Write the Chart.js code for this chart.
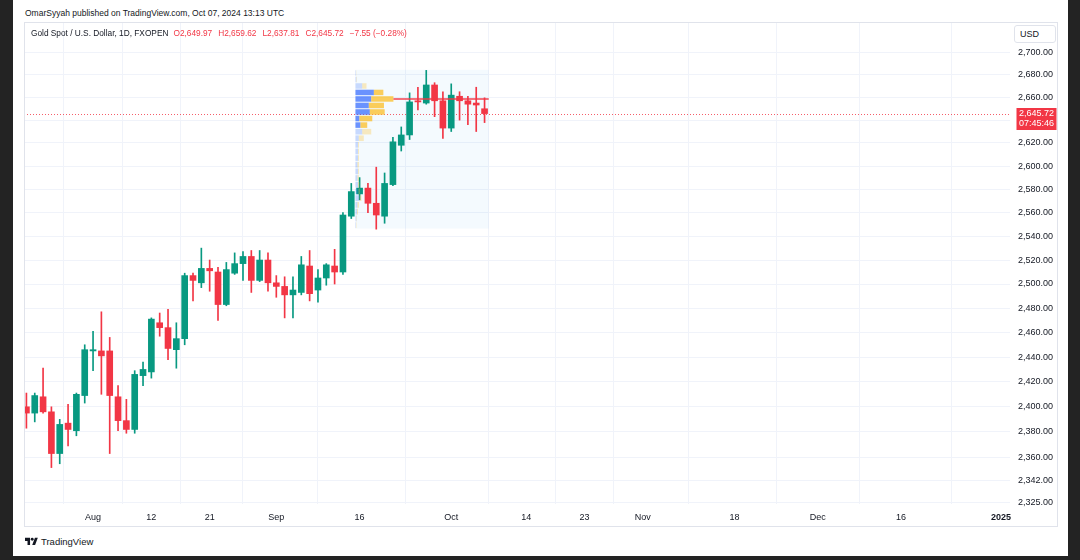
<!DOCTYPE html>
<html><head><meta charset="utf-8">
<title>Gold Spot / U.S. Dollar, 1D</title>
<script src="https://cdn.jsdelivr.net/npm/chart.js@4.4.1/dist/chart.umd.min.js"></script>
<style>
html,body{margin:0;padding:0;width:1080px;height:560px;overflow:hidden;background:#232323;font-family:'Liberation Sans',Arial,sans-serif;}
#sheet{position:absolute;left:13px;top:0;width:1055px;height:556px;background:#fff;}
#pub{position:absolute;left:25px;top:8px;font-size:8.5px;line-height:10px;color:#131722;white-space:nowrap;}
#wrap{position:absolute;left:24px;top:22px;width:1034px;height:505px;}
#frame{position:absolute;left:24px;top:22px;width:1034px;height:505px;box-sizing:border-box;border:1px solid #e0e3eb;pointer-events:none;}
#legend{position:absolute;left:31px;top:28px;font-size:8.3px;line-height:10px;color:#131722;white-space:nowrap;}
#legend span.v{color:#f23645;margin-left:6px;}
#legend span.v.first{margin-left:5px;}
#usd{position:absolute;left:1014px;top:25px;width:42px;height:18px;box-sizing:border-box;border:1px solid #e0e3eb;border-radius:3px;font-size:9px;color:#131722;line-height:16px;padding-left:5px;background:#fff;}
#brand{position:absolute;left:25px;top:536px;height:10px;display:flex;align-items:center;white-space:nowrap;}
#brand span{font-size:9.5px;color:#131722;margin-left:3px;}
</style></head>
<body>
<div id="sheet"></div>
<div id="pub">OmarSyyah published on TradingView.com, Oct 07, 2024 13:13 UTC</div>
<div id="wrap"><canvas id="c" width="1034" height="505"></canvas></div>
<div id="frame"></div>
<div id="legend"></div>
<div id="usd">USD</div>
<div id="brand"><svg width="13" height="8" viewBox="0 0 36 22"><path d="M14 22H7V11H0V2h14v20zM28 22h-8l7.5-20h8L28 22z" fill="#131722"/><circle cx="20" cy="6" r="4" fill="#131722"/></svg><span>TradingView</span></div>
<script>
// ---- data ----
const candleDates = [
 '2024-07-22','2024-07-23','2024-07-24','2024-07-25','2024-07-26',
 '2024-07-29','2024-07-30','2024-07-31','2024-08-01','2024-08-02',
 '2024-08-05','2024-08-06','2024-08-07','2024-08-08','2024-08-09',
 '2024-08-12','2024-08-13','2024-08-14','2024-08-15','2024-08-16',
 '2024-08-19','2024-08-20','2024-08-21','2024-08-22','2024-08-23',
 '2024-08-26','2024-08-27','2024-08-28','2024-08-29','2024-08-30',
 '2024-09-02','2024-09-03','2024-09-04','2024-09-05','2024-09-06',
 '2024-09-09','2024-09-10','2024-09-11','2024-09-12','2024-09-13',
 '2024-09-16','2024-09-17','2024-09-18','2024-09-19','2024-09-20',
 '2024-09-23','2024-09-24','2024-09-25','2024-09-26','2024-09-27',
 '2024-09-30','2024-10-01','2024-10-02','2024-10-03','2024-10-04',
 '2024-10-07'];
const openP = [
 2400,2395,2408,2396,2363, 2387,2381,2409,2445,2445,
 2445,2408,2389,2382,2425, 2428,2468,2464,2446,2455,
 2507,2501,2513,2510,2483, 2509,2517,2523,2503,2520,
 2501,2498,2491,2493,2515, 2495,2505,2515,2510,2557,
 2576,2581,2568,2557,2584, 2618,2627,2657,2655,2671,
 2657,2633,2661,2657,2655, 2649.97];
const highP = [
 2411,2411,2431,2400,2390, 2402,2411,2450,2461,2477,
 2456,2417,2406,2429,2436, 2472,2476,2479,2468,2509,
 2509,2530,2520,2514,2518, 2526,2527,2528,2528,2526,
 2507,2506,2506,2523,2528, 2512,2517,2529,2560,2585,
 2590,2585,2599,2594,2625, 2634,2664,2669,2684,2673,
 2665,2672,2665,2661,2669, 2659.62];
const lowP = [
 2383,2388,2395,2352,2355, 2369,2377,2403,2429,2410,
 2363,2381,2379,2379,2417, 2423,2457,2438,2431,2450,
 2486,2497,2494,2470,2482, 2508,2503,2493,2502,2494,
 2489,2472,2472,2491,2486, 2485,2499,2500,2508,2555,
 2571,2560,2546,2551,2583, 2613,2623,2649,2654,2643,
 2624,2630,2640,2636,2630, 2637.81];
const closeP = [
 2395,2409,2396,2363,2386, 2382,2410,2446,2446,2441,
 2409,2389,2382,2426,2430, 2471,2464,2447,2455,2507,
 2503,2513,2511,2483,2512, 2517,2523,2503,2520,2501,
 2498,2491,2495,2516,2492, 2505,2516,2510,2558,2578,
 2581,2568,2558,2585,2621, 2627,2656,2656,2671,2657,
 2633,2662,2657,2654,2653.27, 2645.72];
const priceTicks = [2700,2680,2660,2640,2620,2600,2580,2560,2540,2520,2500,2480,2460,2440,2420,2400,2380,2360,2342,2325];
const timeTickDates = ['2024-08-01','2024-08-12','2024-08-21','2024-09-02','2024-09-16','2024-10-01','2024-10-14','2024-10-23','2024-11-01','2024-11-18','2024-12-02','2024-12-16','2025-01-01'];
const timeTickLabels = ['Aug','12','21','Sep','16','Oct','14','23','Nov','18','Dec','16','2025'];
// volume profile (visible range Sep 16 - Oct 7), rows from highest price to lowest
const vpFrom = '2024-09-16', vpTo = '2024-10-07';
const vpHigh = 2684.5, vpLow = 2546.5;
const vpValueArea = [2632.75, 2667.25];
const vpUp   = [0.5,1,6.7,18.3,15.7,13.3,14.3,4,5,6.7,3.3,2.5,2.5,2.5,2,2.5,2,2.5,3,4,2,1.5,1,0.5];
const vpDown = [0.3,0.5,4.3,9.4,22,15,14.7,12.7,6.7,9,5,1,1,1,1.5,1,1.5,1.5,1.5,2,1.5,1,0.5,0.5];
const countdown = '07:45:46';

// ---- helpers ----
const UP = '#089981', DOWN = '#f23645';
const fmt = v => Number(v).toLocaleString('en-US',{minimumFractionDigits:2,maximumFractionDigits:2});
function weekdayIndex(ds){
  const d0 = new Date(candleDates[0]+'T00:00:00Z'), d = new Date(ds+'T00:00:00Z');
  let n = 0;
  for (let t = new Date(d0); t < d; t.setUTCDate(t.getUTCDate()+1)) { const w = t.getUTCDay(); if (w !== 0 && w !== 6) n++; }
  return n;
}
const tickIdx = timeTickDates.map(weekdayIndex);
const tickLabelAt = {}; tickIdx.forEach((v,i)=>{ tickLabelAt[v] = timeTickLabels[i]; });
const isUp = i => closeP[i] >= openP[i];
const last = closeP.length - 1;

// legend
(function(){
  const ch = closeP[last] - closeP[last-1];
  const pct = ch / closeP[last-1] * 100;
  const sgn = v => (v < 0 ? '\u2212' : '+') + Math.abs(v).toFixed(2);
  const col = ch < 0 ? DOWN : UP;
  document.getElementById('legend').innerHTML =
    'Gold Spot / U.S. Dollar, 1D, FXOPEN' +
    '<span class="v first" style="color:'+col+'">O'+fmt(openP[last])+'</span>' +
    '<span class="v" style="color:'+col+'">H'+fmt(highP[last])+'</span>' +
    '<span class="v" style="color:'+col+'">L'+fmt(lowP[last])+'</span>' +
    '<span class="v" style="color:'+col+'">C'+fmt(closeP[last])+'</span>' +
    '<span class="v" style="color:'+col+'">'+sgn(ch)+' ('+sgn(pct)+'%)</span>';
})();

const overlay = {
  id: 'overlay',
  beforeDatasetsDraw(chart){
    const {ctx, chartArea:a, scales:{x, y}} = chart;
    const i0 = candleDates.indexOf(vpFrom), i1 = candleDates.indexOf(vpTo);
    const xl = x.getPixelForValue(i0 - 0.5), xr = x.getPixelForValue(i1 + 0.5);
    const yt = y.getPixelForValue(vpHigh), yb = y.getPixelForValue(vpLow);
    ctx.save();
    ctx.fillStyle = 'rgba(33,150,243,0.05)';
    ctx.fillRect(xl, yt, xr - xl, yb - yt);
    // last price dotted line
    const yp = Math.round(y.getPixelForValue(closeP[last])) + 0.5;
    ctx.strokeStyle = 'rgba(242,54,69,0.8)'; ctx.lineWidth = 1; ctx.setLineDash([1,2]);
    ctx.beginPath(); ctx.moveTo(a.left, yp); ctx.lineTo(a.right, yp); ctx.stroke();
    ctx.restore();
  },
  afterDatasetsDraw(chart){
    const {ctx, chartArea:a, scales:{x, y}} = chart;
    const i0 = candleDates.indexOf(vpFrom), i1 = candleDates.indexOf(vpTo);
    const xl = x.getPixelForValue(i0 - 0.5), xr = x.getPixelForValue(i1 + 0.5);
    const n = vpUp.length, step = (vpHigh - vpLow) / n;
    const tot = vpUp.map((u,k)=>u + vpDown[k]);
    const maxTot = Math.max(...tot), poc = tot.indexOf(maxTot);
    const maxW = 0.285 * (xr - xl);
    ctx.save();
    ctx.beginPath(); ctx.rect(a.left, a.top, a.right - a.left, a.bottom - a.top); ctx.clip();
    for (let k = 0; k < n; k++) {
      const pT = vpHigh - k * step, pB = pT - step, pc = (pT + pB) / 2;
      const yT = y.getPixelForValue(pT) + 0.5, yB = y.getPixelForValue(pB) - 0.5;
      const inVA = pc >= vpValueArea[0] && pc <= vpValueArea[1];
      const wu = vpUp[k] / maxTot * maxW, wd = vpDown[k] / maxTot * maxW;
      ctx.fillStyle = inVA ? 'rgba(41,98,255,0.68)' : 'rgba(41,98,255,0.22)';
      ctx.fillRect(xl, yT, wu, yB - yT);
      ctx.fillStyle = inVA ? 'rgba(251,192,45,0.78)' : 'rgba(251,192,45,0.3)';
      ctx.fillRect(xl + wu, yT, wd, yB - yT);
    }
    const pPoc = vpHigh - (poc + 0.5) * step;
    const yPoc = y.getPixelForValue(pPoc);
    ctx.strokeStyle = 'rgba(242,54,69,0.7)'; ctx.lineWidth = 2;
    ctx.beginPath(); ctx.moveTo(xl + maxW, yPoc); ctx.lineTo(xr, yPoc); ctx.stroke();
    ctx.restore();
  },
  afterDraw(chart){
    const {ctx, chartArea:a, scales:{y}} = chart;
    const yp = y.getPixelForValue(closeP[last]);
    const bx = a.right + 6.5, top = Math.round(yp) - 6;
    ctx.save();
    ctx.fillStyle = DOWN;
    ctx.fillRect(bx, top, 40, 22);
    ctx.fillStyle = '#ffffff';
    ctx.font = "9px 'Liberation Sans', Arial, sans-serif";
    ctx.textBaseline = 'middle'; ctx.textAlign = 'left';
    ctx.fillText(fmt(closeP[last]), bx + 2.5, top + 5.5);
    ctx.fillText(countdown, bx + 2.5, top + 16);
    ctx.restore();
  }
};

Chart.defaults.font.family = "'Liberation Sans', Arial, sans-serif";
new Chart(document.getElementById('c'), {
  type: 'bar',
  data: {
    datasets: [
      { label: 'body', data: candleDates.map((d,i)=>({x:i, y:[openP[i], closeP[i]]})),
        backgroundColor: c => isUp(c.dataIndex) ? UP : DOWN, borderWidth: 0,
        barThickness: 6, minBarLength: 1, grouped: false },
      { label: 'wick', data: candleDates.map((d,i)=>({x:i, y:[lowP[i], highP[i]]})),
        backgroundColor: c => isUp(c.dataIndex) ? UP : DOWN, borderWidth: 0,
        barThickness: 1, grouped: false }
    ]
  },
  options: {
    responsive: false, animation: false, devicePixelRatio: 1,
    layout: { padding: { left: 0, right: 0, top: 1, bottom: 0 } },
    plugins: { legend: { display: false }, tooltip: { enabled: false } },
    scales: {
      x: {
        type: 'linear', min: -0.29, max: 118.08, offset: false, bounds: 'data',
        afterBuildTicks: s => { s.ticks = tickIdx.map(v => ({ value: v })); },
        afterFit: s => { s.height = 23; s.paddingLeft = 0; s.paddingRight = 0; },
        grid: { color: '#f0f3fa', drawTicks: false }, border: { display: false },
        ticks: {
          autoSkip: false, maxRotation: 0, padding: 8, color: '#131722',
          font: c => ({ size: 9, weight: (c.tick && tickLabelAt[c.tick.value] === '2025') ? 'bold' : 'normal' }),
          callback: v => tickLabelAt[v] ?? ''
        }
      },
      y: {
        type: 'logarithmic', position: 'right', min: 2323.7, max: 2726.6, bounds: 'data',
        afterBuildTicks: s => { s.ticks = priceTicks.map(v => ({ value: v })); },
        afterFit: s => { s.width = 48; s.paddingTop = 0; s.paddingBottom = 0; },
        grid: { color: '#f0f3fa', drawTicks: false }, border: { display: false },
        ticks: { autoSkip: false, padding: 8, color: '#131722', font: { size: 9 }, callback: v => fmt(v) }
      }
    }
  },
  plugins: [overlay]
});
</script>
</body></html>
